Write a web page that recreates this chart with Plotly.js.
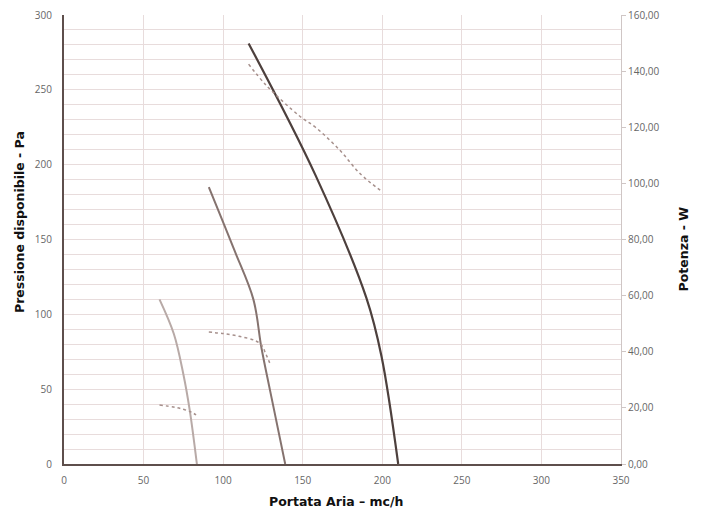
<!DOCTYPE html>
<html>
<head>
<meta charset="utf-8">
<script src="https://cdn.plot.ly/plotly-3.0.1.min.js"></script>
<style>html,body{margin:0;padding:0;background:#fff;}#chart{width:702px;height:516px;}</style>
</head>
<body>
<div id="chart"></div>
<script>
// Pressure curves (left axis, Pa) vs air flow (mc/h)
const flow1 = [60, 69, 75, 79, 83.5];
const pres1 = [110, 87, 60, 36, 0];
const flow2 = [91, 107, 119, 124, 129.5, 139];
const pres2 = [185, 143, 110, 78, 49, 0];
const flow3 = [116, 158, 190, 199.5, 210];
const pres3 = [281, 193, 111, 72, 0];

// Power curves (right axis, W)
const pflow1 = [60, 70, 75, 80, 83];
const power1 = [21, 20.2, 19.5, 18.5, 17.5];
const pflow2 = [91, 100, 110, 120, 124, 127, 130];
const power2 = [47, 46.5, 45.5, 44, 42.5, 39, 35];
const pflow3 = [116, 127, 148, 158, 173, 186, 200];
const power3 = [142.5, 135, 124, 120, 112, 103.5, 97];

const xTicks = [0, 50, 100, 150, 200, 250, 300, 350];
const yTicks = [0, 50, 100, 150, 200, 250, 300];
const y2Ticks = [0, 20, 40, 60, 80, 100, 120, 140, 160];

const traces = [
  {x: flow1, y: pres1, mode: 'lines', line: {color: '#b8aaa7', width: 2, shape: 'spline', smoothing: 1}, yaxis: 'y'},
  {x: flow2, y: pres2, mode: 'lines', line: {color: '#85736f', width: 2, shape: 'spline', smoothing: 1}, yaxis: 'y'},
  {x: flow3, y: pres3, mode: 'lines', line: {color: '#4d403d', width: 2.2, shape: 'spline', smoothing: 1}, yaxis: 'y'},
  {x: pflow1, y: power1, mode: 'lines', line: {color: '#a6908c', width: 1.5, dash: 'dot', shape: 'spline'}, yaxis: 'y2'},
  {x: pflow2, y: power2, mode: 'lines', line: {color: '#a6908c', width: 1.5, dash: 'dot', shape: 'spline'}, yaxis: 'y2'},
  {x: pflow3, y: power3, mode: 'lines', line: {color: '#a6908c', width: 1.5, dash: 'dot', shape: 'spline'}, yaxis: 'y2'}
];

const tickFont = {family: 'Open Sans, Liberation Sans, sans-serif', size: 10, color: '#666'};
const titleFont = {family: 'DejaVu Sans, Verdana, sans-serif', size: 12.5, color: '#111', weight: 'bold'};
const gridC = '#e8dcdc';

const layout = {
  width: 702, height: 516,
  margin: {l: 64, r: 81, t: 15, b: 52},
  paper_bgcolor: '#fff', plot_bgcolor: '#fff',
  showlegend: false,
  separators: ', ',
  xaxis: {
    range: [0, 350], tickvals: xTicks, ticktext: xTicks.map(String),
    showgrid: true, gridcolor: gridC, gridwidth: 1,
    zeroline: false, showline: true, linecolor: '#5e4f4c', linewidth: 2,
    ticks: '', tickfont: tickFont, ticklabelstandoff: 6,
    title: {text: ''}
  },
  yaxis: {
    range: [0, 300], tickvals: yTicks, ticktext: yTicks.map(String),
    showgrid: true, gridcolor: gridC, gridwidth: 1,
    minor: {dtick: 10, showgrid: true, gridcolor: gridC, gridwidth: 1},
    zeroline: false, showline: true, linecolor: '#5e4f4c', linewidth: 2,
    ticks: '', tickfont: tickFont, ticklabelstandoff: 8,
    title: {text: ''}
  },
  yaxis2: {
    range: [0, 160], tickvals: y2Ticks, tickformat: '.2f',
    overlaying: 'y', side: 'right', showgrid: false,
    zeroline: false, showline: true, linecolor: '#cfc6c5', linewidth: 1,
    ticks: 'outside', ticklen: 4, tickcolor: '#cfc6c5',
    tickfont: tickFont, title: {text: ''}
  },
  annotations: [
    {text: 'Portata Aria – mc/h', xref: 'paper', yref: 'paper', x: 0.49, y: -0.063, yanchor: 'top',
     showarrow: false, font: titleFont},
    {text: 'Pressione disponibile - Pa', xref: 'paper', yref: 'paper', x: -0.08, xanchor: 'center', y: 0.54,
     textangle: -90, showarrow: false, font: titleFont},
    {text: 'Potenza - W', xref: 'paper', yref: 'paper', x: 1.113, xanchor: 'center', y: 0.48,
     textangle: -90, showarrow: false, font: titleFont}
  ]
};

Plotly.newPlot('chart', traces, layout, {displayModeBar: false, staticPlot: true});
</script>
</body>
</html>
